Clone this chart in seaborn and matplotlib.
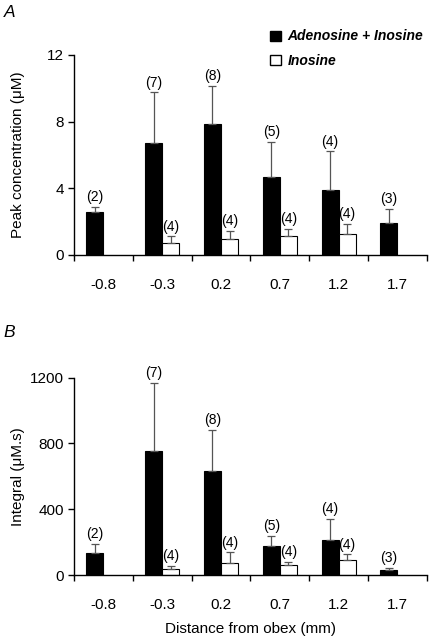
import numpy as np
import pandas as pd
import matplotlib
matplotlib.use("Agg")
import matplotlib.pyplot as plt
from matplotlib.patches import Patch
import seaborn as sns

distances = ["-0.8", "-0.3", "0.2", "0.7", "1.2", "1.7"]
series = ["Adenosine + Inosine", "Inosine"]

# panel A: peak concentration (uM), mean and upper SEM
peak_ado = [2.6, 6.72, 7.88, 4.68, 3.88, 1.94]
peak_ado_err = [0.3, 3.04, 2.28, 2.1, 2.34, 0.82]
peak_ino = [np.nan, 0.74, 0.98, 1.14, 1.28, np.nan]
peak_ino_err = [np.nan, 0.38, 0.46, 0.42, 0.58, np.nan]
peak_n_ado = [2, 7, 8, 5, 4, 3]
peak_n_ino = [None, 4, 4, 4, 4, None]

# panel B: integral (uM.s)
int_ado = [132, 756, 633, 176, 215, 30]
int_ado_err = [58, 410, 249, 61, 128, 13]
int_ino = [np.nan, 36, 75, 61, 91, np.nan]
int_ino_err = [np.nan, 19, 63, 20, 35, np.nan]
int_n_ado = [2, 7, 8, 5, 4, 3]
int_n_ino = [None, 4, 4, 4, 4, None]

sns.set_style("ticks")
plt.rcParams["font.family"] = ["Liberation Sans", "DejaVu Sans"]
plt.rcParams["font.size"] = 11
for k in ["text.color", "axes.labelcolor", "xtick.color", "ytick.color"]:
    plt.rcParams[k] = "black"


def make_df(ado, ado_err, ino, ino_err, n_ado, n_ino):
    rows = []
    for i, d in enumerate(distances):
        rows.append((d, series[0], ado[i], ado_err[i], n_ado[i]))
        rows.append((d, series[1], ino[i], ino_err[i], n_ino[i]))
    return pd.DataFrame(rows, columns=["distance", "series", "value", "err", "n"])


def draw_panel(ax, df, ymax, yticks, ylabel):
    sns.barplot(data=df, x="distance", y="value", hue="series", order=distances,
                hue_order=series, palette=["black", "white"], saturation=1,
                edgecolor="black", linewidth=0.8, width=0.58, errorbar=None,
                legend=False, ax=ax)
    for cont, s in zip(ax.containers, series):
        sub = df[df["series"] == s].set_index("distance")
        for bar in cont:
            h = bar.get_height()
            if np.isnan(h) or h == 0:
                continue
            cx = bar.get_x() + bar.get_width() / 2
            d = distances[int(round(cx))]
            e = sub.loc[d, "err"]
            ax.errorbar(cx, h, yerr=[[0], [e]], fmt="none", ecolor="#555555",
                        elinewidth=0.9, capsize=3, capthick=0.9, zorder=3)
            ax.annotate(f"({int(sub.loc[d, 'n'])})", (cx, h + e), xytext=(0, 2),
                        textcoords="offset points", ha="center", va="bottom",
                        fontsize=10)
    ax.set_xlim(-0.5, len(distances) - 0.5)
    ax.set_ylim(0, ymax)
    ax.set_yticks(yticks)
    ax.set_xticks(np.arange(-0.5, len(distances), 1), minor=True)
    ax.tick_params(axis="x", which="major", length=0, pad=16.5, labelsize=11)
    ax.tick_params(axis="x", which="minor", length=4, width=1, color="black")
    ax.tick_params(axis="y", length=4, width=1, color="black", labelsize=11, pad=3)
    sns.despine(ax=ax)
    for sp in ["left", "bottom"]:
        ax.spines[sp].set_linewidth(1)
        ax.spines[sp].set_color("black")
    ax.set_ylabel(ylabel, fontsize=11)
    ax.yaxis.set_label_coords(-0.138, 0.5)
    ax.set_xlabel("")


fig = plt.figure(figsize=(4.29, 6.39), dpi=100)
axA = fig.add_axes([0.1725, 0.601, 0.8225, 0.313])
axB = fig.add_axes([0.1725, 0.100, 0.8225, 0.309])

draw_panel(axA, make_df(peak_ado, peak_ado_err, peak_ino, peak_ino_err, peak_n_ado, peak_n_ino),
           12, [0, 4, 8, 12], "Peak concentration (\u03bcM)")
draw_panel(axB, make_df(int_ado, int_ado_err, int_ino, int_ino_err, int_n_ado, int_n_ino),
           1200, [0, 400, 800, 1200], "Integral (\u03bcM.s)")
axB.set_xlabel("Distance from obex (mm)", fontsize=11, labelpad=7)

handles = [Patch(facecolor="black", edgecolor="black", label=series[0]),
           Patch(facecolor="white", edgecolor="black", label=series[1])]
axA.legend(handles=handles, loc="upper left", bbox_to_anchor=(0.519, 1.19),
           frameon=False, handlelength=0.85, handleheight=0.75, handletextpad=0.45,
           labelspacing=0.75, prop={"weight": "bold", "style": "italic", "size": 10})

fig.text(0.008, 0.992, "A", fontsize=12.5, style="italic", va="top")
fig.text(0.008, 0.492, "B", fontsize=12.5, style="italic", va="top")

fig.savefig("out.png", dpi=100)
